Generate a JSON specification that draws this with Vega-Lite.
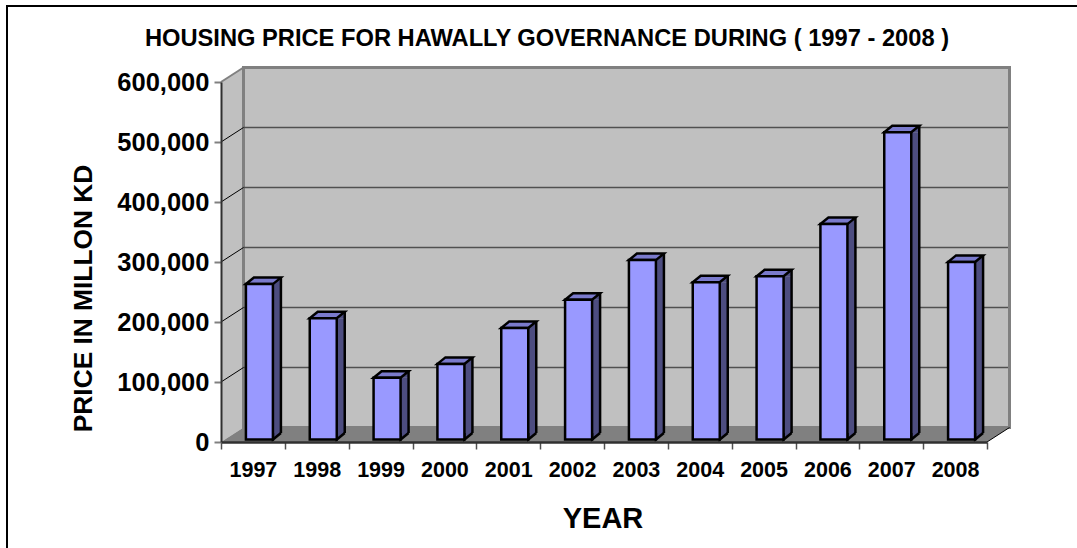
{
"$schema":"https://vega.github.io/schema/vega-lite/v6.json",
"width":766,"height":360,
"autosize":"none",
"padding":{"left":221,"top":82,"right":90,"bottom":106},
"background":"white",
"config":{"view":{"stroke":null},"font":"Liberation Sans"},
"title":{"text":"HOUSING PRICE FOR HAWALLY GOVERNANCE DURING  ( 1997 - 2008 )","font":"Liberation Sans","fontSize":23.7,"fontWeight":"bold","color":"black","anchor":"middle","frame":"group","dx":-57,"offset":-49},
"datasets":{
"bars":[
{"year":"1997","price":259000},{"year":"1998","price":202000},{"year":"1999","price":103000},{"year":"2000","price":126000},
{"year":"2001","price":186000},{"year":"2002","price":233000},{"year":"2003","price":299000},{"year":"2004","price":262000},
{"year":"2005","price":272000},{"year":"2006","price":359000},{"year":"2007","price":512000},{"year":"2008","price":296000}],
"grid":[{"tick":0},{"tick":100000},{"tick":200000},{"tick":300000},{"tick":400000},{"tick":500000},{"tick":600000}],
"one":[{"part":"structure"}]
},
"resolve":{"scale":{"x":"independent"},"axis":{"y":"independent"}},
"layer":[
{"encoding":{},
 "resolve":{"axis":{"y":"independent"}},
 "layer":[
 {"data":{"name":"one"},
  "mark":{"type":"point","shape":"M-214 106 L-214 -436 L860 -436","size":4,"filled":false,"stroke":"black","strokeWidth":2,"opacity":1},
  "encoding":{"x":{"datum":0,"type":"quantitative","scale":{"domain":[0,12],"nice":false,"zero":false},"axis":null},"y":{"datum":0,"type":"quantitative","scale":{"domain":[0,600000],"nice":false},"axis":null}}},
 {"data":{"name":"one"},
  "mark":{"type":"point","shape":"M0 0 L22.5 -14.5 L22.5 -374.5 L0 -360 Z","size":4,"filled":true,"fill":"#c0c0c0","strokeWidth":0,"opacity":1},
  "encoding":{"x":{"datum":0,"type":"quantitative","axis":null},"y":{"datum":0,"type":"quantitative","axis":null}}},
 {"data":{"name":"one"},
  "mark":{"type":"rect","fill":"#c0c0c0","stroke":"#808080","strokeWidth":3,"xOffset":22.5,"x2Offset":22.5,"yOffset":-14.5,"y2Offset":-14.5},
  "encoding":{"x":{"datum":0,"type":"quantitative","axis":null},"x2":{"datum":12},"y":{"datum":0,"type":"quantitative","axis":null},"y2":{"datum":600000}}},
 {"data":{"name":"one"},
  "mark":{"type":"point","shape":"M0 0 L22.5 -14.5 L788.5 -14.5 L766 0 Z","size":4,"filled":true,"fill":"#808080","strokeWidth":0,"opacity":1},
  "encoding":{"x":{"datum":0,"type":"quantitative","axis":null},"y":{"datum":0,"type":"quantitative","axis":null}}},
 {"data":{"name":"grid"},"transform":[{"filter":"datum.tick>0 && datum.tick<600000"}],
  "mark":{"type":"rule","color":"#505050","strokeWidth":1.5,"xOffset":22.5,"x2Offset":21,"yOffset":-14.5,"y2Offset":-14.5},
  "encoding":{"x":{"datum":0,"type":"quantitative","axis":null},"x2":{"datum":12},"y":{"field":"tick","type":"quantitative","axis":null}}},
 {"data":{"name":"grid"},"transform":[{"filter":"datum.tick>0 && datum.tick<600000"}],
  "mark":{"type":"point","shape":"M0 0 L22.5 -14.5","size":4,"filled":false,"stroke":"black","strokeWidth":1,"opacity":1},
  "encoding":{"x":{"datum":0,"type":"quantitative","axis":null},"y":{"field":"tick","type":"quantitative","axis":null}}},
 {"data":{"name":"grid"},"transform":[{"filter":"datum.tick==600000"}],
  "mark":{"type":"point","shape":"M0 0 L22.5 -14.5","size":4,"filled":false,"stroke":"#808080","strokeWidth":2,"opacity":1},
  "encoding":{"x":{"datum":0,"type":"quantitative","axis":null},"y":{"field":"tick","type":"quantitative","axis":null}}},
 {"data":{"name":"grid"},"transform":[{"filter":"datum.tick==0"}],
  "mark":{"type":"point","shape":"M766 0 L788.5 -14.5","size":4,"filled":false,"stroke":"black","strokeWidth":1,"opacity":1},
  "encoding":{"x":{"datum":0,"type":"quantitative","axis":null},
  "y":{"field":"tick","type":"quantitative","title":"PRICE IN MILLON KD",
  "axis":{"orient":"left","values":[0,100000,200000,300000,400000,500000,600000],"format":",.0f","grid":false,"zindex":1,"domainColor":"#303030","domainWidth":2,"tickColor":"#808080","tickSize":7,"tickWidth":2,"labelFontSize":25.5,"labelFontWeight":"bold","labelColor":"black","labelPadding":5,"labelFont":"Liberation Sans","titleFont":"Liberation Sans","titleFontSize":26.3,"titleFontWeight":"bold","titleColor":"black","titleX":-124,"titleY":216}}}}
 ]},
{"data":{"name":"bars"},
 "resolve":{"axis":{"y":"independent"}},
 "encoding":{"x":{"field":"year","type":"nominal","title":"YEAR","scale":{"type":"band","domain":["1997","1998","1999","2000","2001","2002","2003","2004","2005","2006","2007","2008"],"paddingInner":0,"paddingOuter":0},
  "axis":{"labelAngle":0,"tickBand":"extent","zindex":1,"domainColor":"#303030","domainWidth":2.5,"tickColor":"#505050","tickSize":7,"tickWidth":1.5,"labelFontSize":21.5,"labelFontWeight":"bold","labelColor":"black","labelPadding":10,"labelFont":"Liberation Sans","titleFont":"Liberation Sans","titleFontSize":29,"titleFontWeight":"bold","titleColor":"black","titlePadding":24,"titleX":381.5}}},
 "layer":[
 {"mark":{"type":"bar","size":8,"xOffset":24,"yOffset":-2.5,"y2Offset":-9,"fill":"#4d4d80"},
  "encoding":{"y":{"field":"price","type":"quantitative","axis":null},"y2":{"datum":0}}},
 {"mark":{"type":"point","shape":"M13.5 0 L21.5 -6.5 L21.5 0 Z","size":4,"filled":true,"fill":"#4d4d80","strokeWidth":0,"opacity":1,"xOffset":6.5,"yOffset":-2.5},
  "encoding":{"y":{"field":"price","type":"quantitative","axis":null}}},
 {"mark":{"type":"point","shape":"M13.5 -6.5 L13.5 0 L21.5 -6.5","size":4,"filled":true,"fill":"#4d4d80","stroke":"black","strokeWidth":2.5,"opacity":1,"xOffset":6.5,"yOffset":-2.5},
  "encoding":{"y":{"datum":0,"type":"quantitative","axis":null}}},
 {"mark":{"type":"rule","color":"black","strokeWidth":2.5,"xOffset":28,"yOffset":-9,"y2Offset":-9},
  "encoding":{"y":{"field":"price","type":"quantitative","axis":null},"y2":{"datum":0}}},
 {"mark":{"type":"point","shape":"M-13.5 0 L13.5 0 L21.5 -6.5 L-5.5 -6.5 Z","size":4,"filled":true,"fill":"#7a7acc","stroke":"black","strokeWidth":2.5,"opacity":1,"xOffset":6.5,"yOffset":-2.5},
  "encoding":{"y":{"field":"price","type":"quantitative","axis":null}}},
 {"mark":{"type":"bar","size":27,"xOffset":6.5,"yOffset":-2.5,"y2Offset":-2.5,"fill":"#9999ff","stroke":"black","strokeWidth":2.5},
  "encoding":{"y":{"field":"price","type":"quantitative","axis":null},"y2":{"datum":0}}}
 ]}
]
}
